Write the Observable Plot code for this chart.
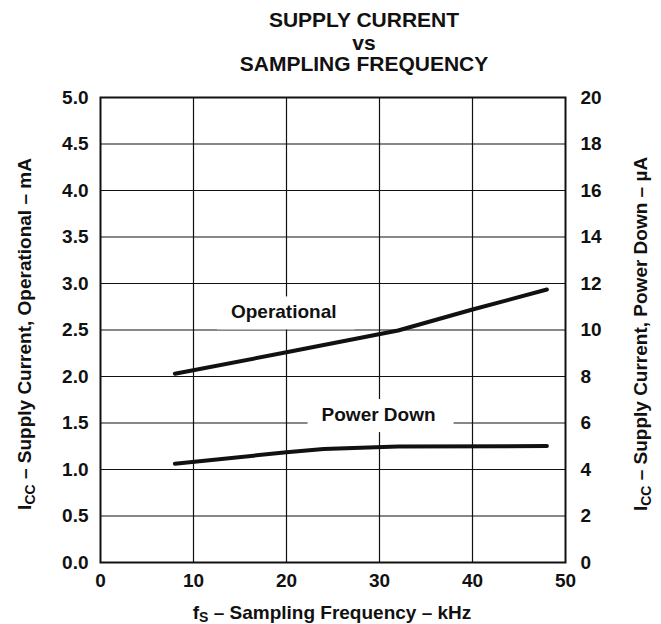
<!DOCTYPE html>
<html>
<head>
<meta charset="utf-8">
<script src="https://cdn.jsdelivr.net/npm/d3@7"></script>
<script src="https://cdn.jsdelivr.net/npm/@observablehq/plot@0.6"></script>
<style>
  html, body { margin: 0; padding: 0; background: #fff; }
  #chart { width: 661px; height: 624px; }
</style>
</head>
<body>
<div id="chart"></div>
<script>
// ---- Data ----
const titleLines = ["SUPPLY CURRENT", "vs", "SAMPLING FREQUENCY"];

const operationalFreq = [8, 20, 32, 40, 48];              // kHz
const operationalMA   = [2.03, 2.26, 2.495, 2.72, 2.935]; // mA

const powerDownFreq = [8, 20, 24, 32, 48];                // kHz
const powerDownUA   = [4.25, 4.74, 4.88, 4.99, 5.01];     // µA

const UA_PER_MA = 4; // right axis: 20 µA at the top of the 5 mA left axis

const xTicks = [0, 10, 20, 30, 40, 50];
const xTickLabels = ["0", "10", "20", "30", "40", "50"];
const xGridTicks = [10, 20, 30, 40];

const yTicks = [0, 0.5, 1, 1.5, 2, 2.5, 3, 3.5, 4, 4.5, 5];
const yLeftLabels = ["0.0", "0.5", "1.0", "1.5", "2.0", "2.5", "3.0", "3.5", "4.0", "4.5", "5.0"];
const yRightTicks = [0, 0.5, 1, 1.5, 2, 2.5, 3, 3.5, 4, 4.5, 5];
const yRightTickLabels = ["0", "2", "4", "6", "8", "10", "12", "14", "16", "18", "20"];
const yGridTicks = [0.5, 1, 1.5, 2, 2.5, 3, 3.5, 4, 4.5];

const annotLabels = ["Operational", "Power Down"];
const annotX = [19.7, 29.9];
const annotY = [2.69, 1.586];

const xLabelParts = [["f", false], ["S", true], [" – Sampling Frequency – kHz", false]];
const yLeftLabelParts = [["I", false], ["CC", true], [" – Supply Current, Operational – mA", false]];
const yRightLabelParts = [["I", false], ["CC", true], [" – Supply Current, Power Down – µA", false]];

const joinParts = p => p.map(d => d[0]).join("");

const opData = operationalFreq.map((f, i) => ({f, v: operationalMA[i]}));
const pdData = powerDownFreq.map((f, i) => ({f, v: powerDownUA[i]}));

const INK = "#111";
const FONT = "'Liberation Sans', Arial, Helvetica, sans-serif";

const svg = Plot.plot({
  width: 661,
  height: 624,
  marginLeft: 100,
  marginRight: 96,
  marginTop: 97,
  marginBottom: 62,
  x: {domain: [0, 50]},
  y: {domain: [0, 5]},
  style: {fontFamily: FONT, fontSize: "19px", fontWeight: "bold", color: INK, background: "#fff", overflow: "visible"},
  marks: [
    Plot.gridX(xGridTicks, {stroke: INK, strokeOpacity: 1, strokeWidth: 1.2}),
    Plot.gridY(yGridTicks, {stroke: INK, strokeOpacity: 1, strokeWidth: 1.2}),
    Plot.text(annotLabels, {
      x: (d, i) => annotX[i], y: (d, i) => annotY[i], text: d => d,
      fill: INK, fontSize: 19, className: "annot"
    }),
    Plot.line(opData, {x: "f", y: "v", stroke: INK, strokeWidth: 4, strokeLinecap: "round", strokeLinejoin: "round"}),
    Plot.line(pdData, {x: "f", y: d => d.v / UA_PER_MA, stroke: INK, strokeWidth: 4, strokeLinecap: "round", strokeLinejoin: "round"}),
    Plot.frame({stroke: INK, strokeWidth: 2}),
    Plot.axisX(xTicks, {tickSize: 0, tickPadding: 11, tickFormat: d => xTickLabels[xTicks.indexOf(d)], label: null, fill: INK}),
    Plot.axisY(yTicks, {anchor: "left", tickSize: 0, tickPadding: 12, tickFormat: d => yLeftLabels[yTicks.indexOf(d)], label: null, fill: INK}),
    Plot.axisY(yRightTicks, {anchor: "right", tickSize: 0, tickPadding: 15, tickFormat: d => yRightTickLabels[yRightTicks.indexOf(d)], label: null, fill: INK}),
    Plot.text([titleLines[0]], {frameAnchor: "top", dx: 31, dy: -70.3, lineAnchor: "bottom", textAnchor: "middle", fontSize: 21, fill: INK, text: d => d}),
    Plot.text([titleLines[1]], {frameAnchor: "top", dx: 31, dy: -47.7, lineAnchor: "bottom", textAnchor: "middle", fontSize: 21, fill: INK, text: d => d}),
    Plot.text([titleLines[2]], {frameAnchor: "top", dx: 31, dy: -27, lineAnchor: "bottom", textAnchor: "middle", fontSize: 21, fill: INK, text: d => d}),
    Plot.text([joinParts(xLabelParts)], {frameAnchor: "bottom", dx: -1, dy: 56.3, lineAnchor: "bottom", textAnchor: "middle", fill: INK, text: d => d, className: "xlabel"}),
    Plot.text([joinParts(yLeftLabelParts)], {frameAnchor: "left", rotate: -90, dx: -69.3, dy: 4, lineAnchor: "bottom", textAnchor: "middle", fill: INK, text: d => d, className: "ylabelleft"}),
    Plot.text([joinParts(yRightLabelParts)], {frameAnchor: "right", rotate: -90, dx: 81.5, dy: 4, lineAnchor: "bottom", textAnchor: "middle", fill: INK, text: d => d, className: "ylabelright"})
  ]
});

document.getElementById("chart").append(svg);

const NS = "http://www.w3.org/2000/svg";

// white boxes behind the annotation labels (break the grid lines)
svg.querySelectorAll(".annot text").forEach(t => {
  const b = t.getBBox();
  const r = document.createElementNS(NS, "rect");
  r.setAttribute("x", b.x - 14);
  r.setAttribute("y", b.y - 5);
  r.setAttribute("width", b.width + 32);
  r.setAttribute("height", b.height + 12);
  r.setAttribute("fill", "#fff");
  r.setAttribute("stroke", "none");
  const tr = t.getAttribute("transform");
  if (tr) r.setAttribute("transform", tr);
  t.parentNode.insertBefore(r, t);
});

// subscripts in axis titles
function subscriptify(selector, parts) {
  const t = svg.querySelector(selector);
  if (!t) return;
  t.textContent = "";
  let shifted = false;
  parts.forEach(([s, sub]) => {
    const ts = document.createElementNS(NS, "tspan");
    ts.textContent = s;
    if (sub) { ts.setAttribute("font-size", "14px"); ts.setAttribute("dy", "3.5"); shifted = true; }
    else if (shifted) { ts.setAttribute("dy", "-3.5"); shifted = false; }
    t.append(ts);
  });
}
subscriptify(".xlabel text", xLabelParts);
subscriptify(".ylabelleft text", yLeftLabelParts);
subscriptify(".ylabelright text", yRightLabelParts);
</script>
</body>
</html>
